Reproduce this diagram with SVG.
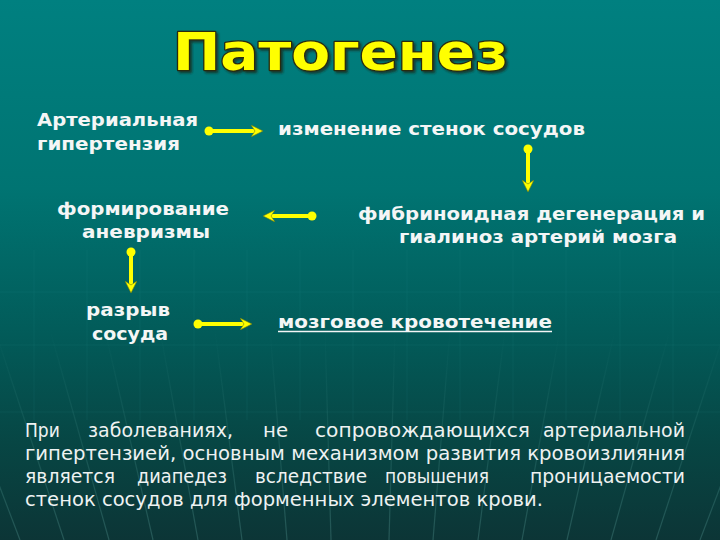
<svg xmlns="http://www.w3.org/2000/svg" width="720" height="540" viewBox="0 0 720 540">
<defs>
<linearGradient id="bg" x1="0" y1="0" x2="0" y2="1">
<stop offset="0" stop-color="#008080"/>
<stop offset="0.35" stop-color="#007472"/>
<stop offset="0.62" stop-color="#025b59"/>
<stop offset="0.82" stop-color="#074644"/>
<stop offset="1" stop-color="#0c3536"/>
</linearGradient>
<linearGradient id="fade" gradientUnits="userSpaceOnUse" x1="0" y1="330" x2="0" y2="540">
<stop offset="0" stop-color="#7fd0c8" stop-opacity="0"/>
<stop offset="1" stop-color="#7fd0c8" stop-opacity="0.22"/>
</linearGradient>
<filter id="shadow" x="-10%" y="-20%" width="120%" height="150%">
<feDropShadow dx="2" dy="2" stdDeviation="1" flood-color="#1c2a1a" flood-opacity="0.75"/>
</filter>
<marker id="head" viewBox="0 0 12 12" refX="4" refY="6" markerWidth="12" markerHeight="12" markerUnits="userSpaceOnUse" orient="auto">
<path d="M0,0 L12,6 L0,12 L4,6 z" fill="#ffff00" stroke="#6b7a10" stroke-width="0.6"/>
</marker>
<style>
.lbl{font-family:"DejaVu Sans","Liberation Sans",sans-serif;font-weight:bold;font-size:17.5px;fill:#f4f6f6}
.par{font-family:"DejaVu Sans Condensed","Liberation Sans",sans-serif;font-size:19px;fill:#eef2f2}
.arr{stroke:#ffff00;stroke-width:4;fill:none;marker-end:url(#head)}
.dot{fill:#ffff00}
.grid{stroke:#3aa39c;stroke-opacity:0.10;stroke-width:1}
.ray{stroke:url(#fade);stroke-width:1.2}
</style>
</defs>
<rect x="0" y="0" width="720" height="540" fill="url(#bg)"/>
<g id="background-lines">
<g class="grid">
<line x1="34" y1="250" x2="34" y2="420"/><line x1="87" y1="250" x2="87" y2="420"/><line x1="140" y1="250" x2="140" y2="420"/><line x1="194" y1="250" x2="194" y2="420"/><line x1="247" y1="250" x2="247" y2="420"/><line x1="300" y1="250" x2="300" y2="420"/><line x1="353" y1="250" x2="353" y2="420"/><line x1="407" y1="250" x2="407" y2="420"/><line x1="460" y1="250" x2="460" y2="420"/><line x1="513" y1="250" x2="513" y2="420"/><line x1="566" y1="250" x2="566" y2="420"/><line x1="620" y1="250" x2="620" y2="420"/><line x1="673" y1="250" x2="673" y2="420"/>
<line x1="0" y1="292" x2="720" y2="292"/><line x1="0" y1="345" x2="720" y2="345"/><line x1="0" y1="412" x2="720" y2="412"/>
</g>
<g class="ray">
<line x1="-60" y1="330" x2="20" y2="540"/><line x1="-5" y1="330" x2="64" y2="540"/><line x1="50" y1="330" x2="109" y2="540"/><line x1="105" y1="330" x2="153" y2="540"/><line x1="160" y1="330" x2="198" y2="540"/><line x1="215" y1="330" x2="242" y2="540"/><line x1="270" y1="330" x2="287" y2="540"/><line x1="325" y1="330" x2="331" y2="540"/><line x1="395" y1="330" x2="389" y2="540"/><line x1="450" y1="330" x2="433" y2="540"/><line x1="505" y1="330" x2="478" y2="540"/><line x1="560" y1="330" x2="522" y2="540"/><line x1="615" y1="330" x2="567" y2="540"/><line x1="670" y1="330" x2="611" y2="540"/><line x1="725" y1="330" x2="656" y2="540"/><line x1="780" y1="330" x2="700" y2="540"/>
</g>
</g>
<g id="title">
<text x="173" y="70" font-family="DejaVu Sans,Liberation Sans,sans-serif" font-weight="bold" font-size="52" textLength="335" lengthAdjust="spacingAndGlyphs" fill="#ffff00" stroke="#2a2a10" stroke-width="2.4" paint-order="stroke" stroke-linejoin="round" filter="url(#shadow)">Патогенез</text>
</g>
<g id="node-hypertension">
<text class="lbl" x="37" y="126" textLength="161" lengthAdjust="spacingAndGlyphs">Артериальная</text>
<text class="lbl" x="37" y="150" textLength="143" lengthAdjust="spacingAndGlyphs">гипертензия</text>
</g>
<g id="node-walls">
<text class="lbl" x="278" y="135" textLength="307" lengthAdjust="spacingAndGlyphs">изменение стенок сосудов</text>
</g>
<g id="node-fibrinoid">
<text class="lbl" x="358" y="220" textLength="347" lengthAdjust="spacingAndGlyphs">фибриноидная дегенерация и</text>
<text class="lbl" x="399" y="243" textLength="278" lengthAdjust="spacingAndGlyphs">гиалиноз артерий мозга</text>
</g>
<g id="node-aneurysm">
<text class="lbl" x="57" y="215" textLength="172" lengthAdjust="spacingAndGlyphs">формирование</text>
<text class="lbl" x="82" y="238" textLength="128" lengthAdjust="spacingAndGlyphs">аневризмы</text>
</g>
<g id="node-rupture">
<text class="lbl" x="86" y="316" textLength="84" lengthAdjust="spacingAndGlyphs">разрыв</text>
<text class="lbl" x="92" y="340" textLength="76" lengthAdjust="spacingAndGlyphs">сосуда</text>
</g>
<g id="node-hemorrhage">
<text class="lbl" x="278" y="328" textLength="274" lengthAdjust="spacingAndGlyphs">мозговое кровотечение</text>
<line x1="278" y1="331.5" x2="552" y2="331.5" stroke="#f4f6f6" stroke-width="1.6"/>
</g>
<g id="connectors">
<line class="arr" x1="209" y1="131" x2="255" y2="131"/><circle class="dot" cx="209" cy="131" r="4.5"/>
<line class="arr" x1="528" y1="149" x2="528" y2="184"/><circle class="dot" cx="528" cy="149" r="4.5"/>
<line class="arr" x1="312" y1="216" x2="271" y2="216"/><circle class="dot" cx="312" cy="216" r="4.5"/>
<line class="arr" x1="131" y1="252" x2="131" y2="285"/><circle class="dot" cx="131" cy="252" r="4.5"/>
<line class="arr" x1="198" y1="324" x2="244" y2="324"/><circle class="dot" cx="198" cy="324" r="4.5"/>
</g>
<g id="paragraph">
<text class="par" x="25" y="437">При</text>
<text class="par" x="88" y="437" textLength="145" lengthAdjust="spacingAndGlyphs">заболеваниях,</text>
<text class="par" x="263" y="437" textLength="25" lengthAdjust="spacingAndGlyphs">не</text>
<text class="par" x="315" y="437" textLength="215" lengthAdjust="spacingAndGlyphs">сопровождающихся</text>
<text class="par" x="543" y="437" textLength="142" lengthAdjust="spacingAndGlyphs">артериальной</text>
<text class="par" x="25" y="460" textLength="660" lengthAdjust="spacingAndGlyphs">гипертензией, основным механизмом развития кровоизлияния</text>
<text class="par" x="25" y="483" textLength="90" lengthAdjust="spacingAndGlyphs">является</text>
<text class="par" x="137" y="483" textLength="90" lengthAdjust="spacingAndGlyphs">диапедез</text>
<text class="par" x="255" y="483" textLength="112" lengthAdjust="spacingAndGlyphs">вследствие</text>
<text class="par" x="385" y="483">повышения</text>
<text class="par" x="530" y="483" textLength="155" lengthAdjust="spacingAndGlyphs">проницаемости</text>
<text class="par" x="25" y="506" textLength="518" lengthAdjust="spacingAndGlyphs">стенок сосудов для форменных элементов крови.</text>
</g>
</svg>
